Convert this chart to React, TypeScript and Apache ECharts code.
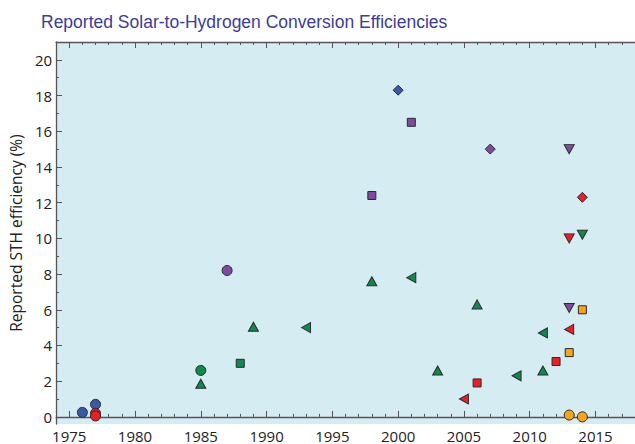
import React, { useEffect, useRef } from "react";
import * as echarts from "echarts";

// ---- data (year, reported STH efficiency %) ----
const blueCircle = [[1976, 0.25], [1977, 0.7]];
const redCircle = [[1977, 0.2], [1977, 0.05]];
const greenCircle = [[1985, 2.6]];
const purpleCircle = [[1987, 8.2]];
const orangeCircle = [[2013, 0.1], [2014, 0.0]];
const greenTriUp = [[1985, 1.85], [1989, 5.05], [1998, 7.6], [2003, 2.6], [2006, 6.3], [2011, 2.6]];
const greenTriLeft = [[1993, 5.0], [2001, 7.8], [2009, 2.3], [2011, 4.7]];
const redTriLeft = [[2005, 1.0], [2013, 4.9]];
const greenSquare = [[1988, 3.0]];
const purpleSquare = [[1998, 12.4], [2001, 16.5]];
const redSquare = [[2006, 1.9], [2012, 3.1]];
const orangeSquare = [[2013, 3.6], [2014, 6.0]];
const blueDiamond = [[2000, 18.3]];
const purpleDiamond = [[2007, 15.0]];
const redDiamond = [[2014, 12.3]];
const purpleTriDown = [[2013, 15.0], [2013, 6.1]];
const redTriDown = [[2013, 10.0]];
const greenTriDown = [[2014, 10.2]];

const xMajorTicks = [1975, 1980, 1985, 1990, 1995, 2000, 2005, 2010, 2015];
const xMinorTicks = Array.from({ length: 45 }, (_, i) => 1974 + i);
const yMajorTicks = [0, 2, 4, 6, 8, 10, 12, 14, 16, 18, 20];
const yMinorTicks = Array.from({ length: 22 }, (_, i) => i);

const TITLE = "Reported Solar-to-Hydrogen Conversion Efficiencies";
const Y_NAME = "Reported STH efficiency (%)";

const BLUE = "#3c58a8";
const RED = "#ee1d24";
const GREEN = "#0e8a4a";
const PURPLE = "#7e4b9e";
const ORANGE = "#f7a31c";

const TRI_UP = "path://M5,0L10,9L0,9Z";
const TRI_DOWN = "path://M0,0L10,0L5,9Z";
const TRI_LEFT = "path://M0,5L9,0L9,10Z";

export default function App() {
  const ref = useRef<HTMLDivElement>(null);
  useEffect(() => {
    if (!ref.current) return;
    const chart = echarts.init(ref.current, null, { renderer: "svg" });
    const lineColor = "#555";
    const axisBase = { type: "value", min: 1974, max: 2018, splitLine: { show: false } };
    const yBase = { type: "value", min: -0.4, max: 21, splitLine: { show: false } };
    const mk = (data: number[][], color: string, symbol: string, size: any) => ({
      type: "scatter",
      data,
      symbol,
      symbolSize: size,
      xAxisIndex: 0,
      yAxisIndex: 0,
      itemStyle: { color, borderColor: "#2a2a2a", borderWidth: 1, opacity: 1 },
      z: 5,
    });
    chart.setOption({
      animation: false,
      title: {
        text: TITLE,
        left: 36,
        top: 8,
        textStyle: { fontFamily: "Liberation Sans", fontSize: 17.5, fontWeight: "normal", color: "#3c3c98" },
      },
      grid: { left: 52, right: -8, top: 42, bottom: 20, show: true, backgroundColor: "#d6ecf3", borderWidth: 0 },
      xAxis: [
        {
          ...axisBase,
          position: "bottom",
          axisLine: { show: true, lineStyle: { color: lineColor, width: 1.3 } },
          axisTick: { show: true, inside: true, length: 6, customValues: xMajorTicks, lineStyle: { color: lineColor } },
          axisLabel: {
            customValues: xMajorTicks,
            margin: 4,
            color: "#222",
            fontFamily: "Open Sans",
            fontSize: 15,
            formatter: (v: number) => String(Math.round(v)),
          },
        },
        {
          ...axisBase,
          position: "bottom",
          axisLine: { show: false },
          axisTick: { show: true, inside: true, length: 3, customValues: xMinorTicks, lineStyle: { color: lineColor } },
          axisLabel: { show: false },
        },
        {
          ...axisBase,
          position: "top",
          axisLine: { show: true, lineStyle: { color: lineColor, width: 1.3 } },
          axisTick: { show: true, inside: true, length: 6, customValues: xMajorTicks, lineStyle: { color: lineColor } },
          axisLabel: { show: false },
        },
        {
          ...axisBase,
          position: "top",
          axisLine: { show: false },
          axisTick: { show: true, inside: true, length: 3, customValues: xMinorTicks, lineStyle: { color: lineColor } },
          axisLabel: { show: false },
        },
      ],
      yAxis: [
        {
          ...yBase,
          position: "left",
          name: Y_NAME,
          nameLocation: "middle",
          nameGap: 31,
          nameTextStyle: { fontFamily: "Open Sans", fontSize: 15.5, color: "#222" },
          axisLine: { show: true, lineStyle: { color: lineColor, width: 1.3 } },
          axisTick: { show: true, inside: true, length: 6, customValues: yMajorTicks, lineStyle: { color: lineColor } },
          axisLabel: {
            customValues: yMajorTicks,
            margin: 4,
            color: "#222",
            fontFamily: "Open Sans",
            fontSize: 15,
            formatter: (v: number) => String(Math.round(v)),
          },
        },
        {
          ...yBase,
          position: "left",
          axisLine: { show: false },
          axisTick: { show: true, inside: true, length: 3, customValues: yMinorTicks, lineStyle: { color: lineColor } },
          axisLabel: { show: false },
        },
      ],
      series: [
        mk(blueCircle, BLUE, "circle", 10),
        mk(redCircle, RED, "circle", 10),
        mk(greenCircle, GREEN, "circle", 10),
        mk(purpleCircle, PURPLE, "circle", 10),
        mk(orangeCircle, ORANGE, "circle", 10),
        mk(greenTriUp, GREEN, TRI_UP, [10, 9]),
        mk(greenTriLeft, GREEN, TRI_LEFT, [9, 10]),
        mk(redTriLeft, RED, TRI_LEFT, [9, 10]),
        mk(greenSquare, GREEN, "rect", 8),
        mk(purpleSquare, PURPLE, "rect", 8),
        mk(redSquare, RED, "rect", 8),
        mk(orangeSquare, ORANGE, "rect", 8),
        mk(blueDiamond, BLUE, "diamond", 10),
        mk(purpleDiamond, PURPLE, "diamond", 10),
        mk(redDiamond, RED, "diamond", 10),
        mk(purpleTriDown, PURPLE, TRI_DOWN, [10, 9]),
        mk(redTriDown, RED, TRI_DOWN, [10, 9]),
        mk(greenTriDown, GREEN, TRI_DOWN, [10, 9]),
      ],
    });
    return () => chart.dispose();
  }, []);
  return <div ref={ref} style={{ width: 635, height: 444, position: "absolute", left: 0, top: 0 }} />;
}
